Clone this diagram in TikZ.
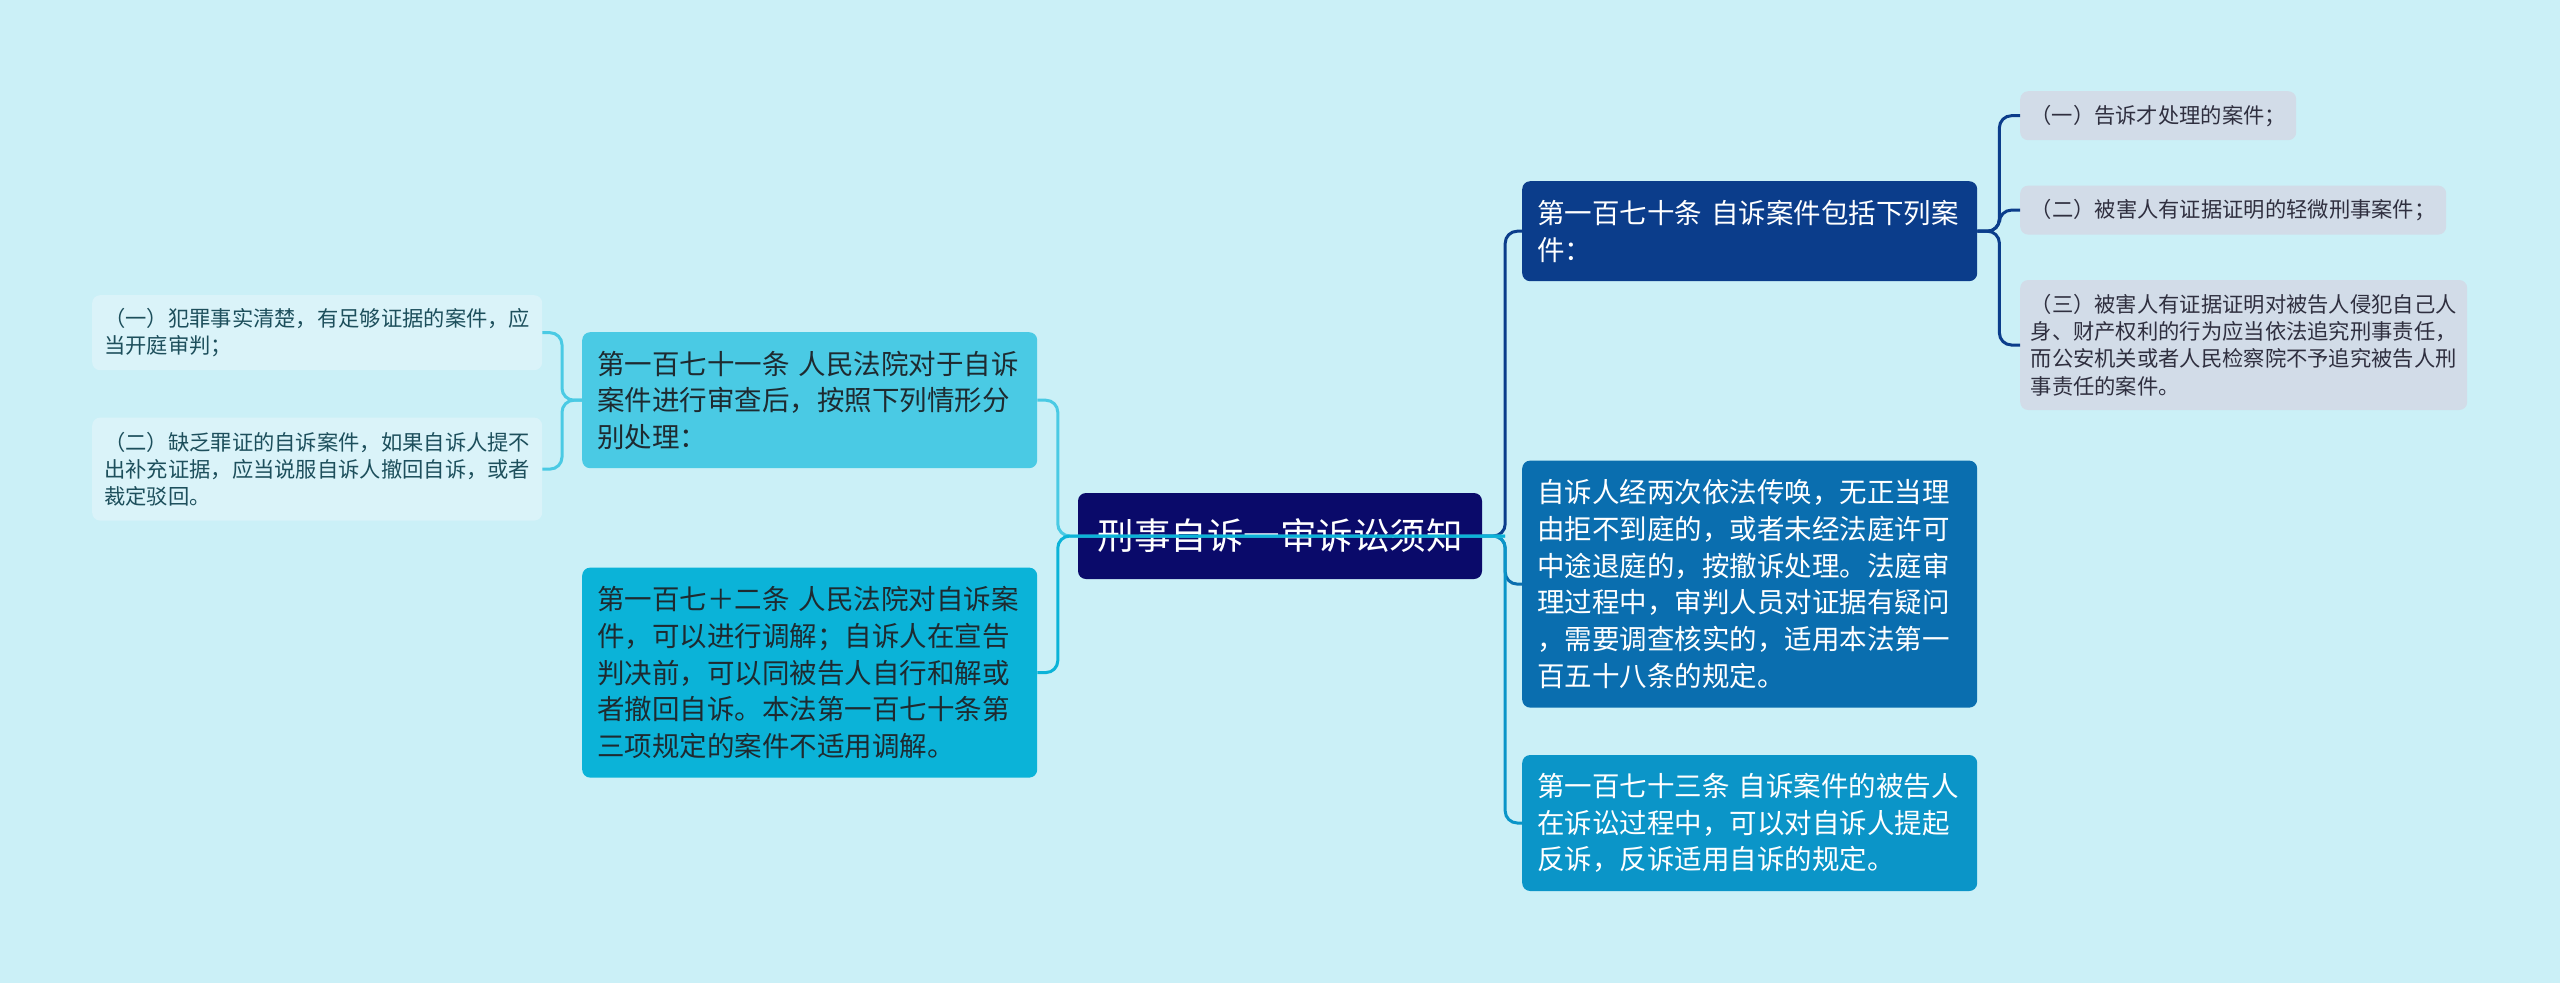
\documentclass[tikz,border=0pt]{standalone}
\usepackage{fontspec}
\setmainfont{Noto Sans CJK SC}
\usepackage{xcolor}
\usepackage{tikz}
\usetikzlibrary{positioning}
\definecolor{mmbg}{HTML}{CBF0F7}
\definecolor{mmroot}{HTML}{0A0A6A}
\definecolor{mmdark}{HTML}{0B3D8B}
\definecolor{mmmid}{HTML}{0A6EAF}
\definecolor{mmlight}{HTML}{0B95C8}
\definecolor{mmgrey}{HTML}{D2DCE8}
\definecolor{mmsky}{HTML}{4ACAE4}
\definecolor{mmcyan}{HTML}{0BB3D8}
\definecolor{mmpale}{HTML}{DAF3F9}
\definecolor{mmink}{HTML}{1E2A30}
\definecolor{mmteal}{HTML}{1D4F5C}
\definecolor{mmslate}{HTML}{2F2F3F}

\begin{document}
\begin{tikzpicture}[
  x=1pt, y=-1pt,
  rootbox/.style={rectangle, fill=mmroot, rounded corners=8pt, text=white,
               minimum width=404pt, minimum height=86pt, inner sep=0pt,
               font=\fontsize{36.5pt}{40pt}\selectfont},
  topic/.style={rectangle, fill=#1, rounded corners=8pt, inner xsep=15pt,
               inner ysep=4pt, text width=425pt, align=left,
               font=\fontsize{27.5pt}{36.7pt}\selectfont},
  detail/.style={rectangle, fill=#1, rounded corners=8pt, inner xsep=10pt,
               inner ysep=4pt, align=left,
               font=\fontsize{21.3pt}{27.2pt}\selectfont},
  link/.style={draw=#1, line width=3pt, rounded corners=12pt},
]

% Background
\fill[mmbg] (0,0) rectangle (2560,983);

% Root
\node[rootbox] (root) at (1280,536) {刑事自诉一审诉讼须知};

% Right branches
\node[topic=mmdark, text=white, minimum height=100pt, anchor=north west] (r1) at (1522,181) {
  第一百七十条 自诉案件包括下列案\\件：
};
\node[topic=mmmid, text=white, minimum height=247pt, below=179pt of r1.south west, anchor=north west] (r2) {
  自诉人经两次依法传唤，无正当理\\由拒不到庭的，或者未经法庭许可\\中途退庭的，按撤诉处理。法庭审\\理过程中，审判人员对证据有疑问\\，需要调查核实的，适用本法第一\\百五十八条的规定。
};
\node[topic=mmlight, text=white, minimum height=136pt, below=47pt of r2.south west, anchor=north west] (r3) {
  第一百七十三条 自诉案件的被告人\\在诉讼过程中，可以对自诉人提起\\反诉，反诉适用自诉的规定。
};

% Cases under r1
\node[detail=mmgrey, text=mmslate, minimum width=276pt, minimum height=49pt, anchor=north west] (r1a) at (2020,91) {（一）告诉才处理的案件；};
\node[detail=mmgrey, text=mmslate, minimum width=426pt, minimum height=49pt, below=45pt of r1a.south west, anchor=north west] (r1b) {（二）被害人有证据证明的轻微刑事案件；};
\node[detail=mmgrey, text=mmslate, minimum width=447pt, minimum height=130pt, below=45pt of r1b.south west, anchor=north west] (r1c) {
  （三）被害人有证据证明对被告人侵犯自己人\\身、财产权利的行为应当依法追究刑事责任，\\而公安机关或者人民检察院不予追究被告人刑\\事责任的案件。
};

% Left branches
\node[topic=mmsky, text=mmink, minimum height=136pt, anchor=north west] (l1) at (582,332) {
  第一百七十一条 人民法院对于自诉\\案件进行审查后，按照下列情形分\\别处理：
};
\node[topic=mmcyan, text=mmink, minimum height=210pt, below=99pt of l1.south west, anchor=north west] (l2) {
  第一百七＋二条 人民法院对自诉案\\件，可以进行调解；自诉人在宣告\\判决前，可以同被告人自行和解或\\者撤回自诉。本法第一百七十条第\\三项规定的案件不适用调解。
};

% Cases under l1
\node[detail=mmpale, text=mmteal, minimum width=450pt, minimum height=75pt, anchor=north west] (l1a) at (92,295) {
  （一）犯罪事实清楚，有足够证据的案件，应\\当开庭审判；
};
\node[detail=mmpale, text=mmteal, minimum width=450pt, minimum height=103pt, below=47pt of l1a.south west, anchor=north west] (l1b) {
  （二）缺乏罪证的自诉案件，如果自诉人提不\\出补充证据，应当说服自诉人撤回自诉，或者\\裁定驳回。
};

% Connectors
\draw[link=mmdark] (root.east) -- ++(23,0) |- (r1.west);
\draw[link=mmmid] (root.east) -- ++(23,0) |- (r2.west);
\draw[link=mmlight] (root.east) -- ++(23,0) |- (r3.west);
\draw[link=mmdark] (r1.east) -- ++(22,0) |- (r1a.west);
\draw[link=mmdark] (r1.east) -- ++(22,0) |- (r1b.west);
\draw[link=mmdark] (r1.east) -- ++(22,0) |- (r1c.west);
\draw[link=mmsky] (l1.west) -- ++(-20,0) |- (l1a.east);
\draw[link=mmsky] (l1.west) -- ++(-20,0) |- (l1b.east);
\draw[link=mmsky] ([xshift=23pt]root.east) -- ([xshift=-20pt]root.west) |- (l1.east);
\draw[link=mmcyan] ([xshift=23pt]root.east) -- ([xshift=-20pt]root.west) |- (l2.east);

\end{tikzpicture}
\end{document}
